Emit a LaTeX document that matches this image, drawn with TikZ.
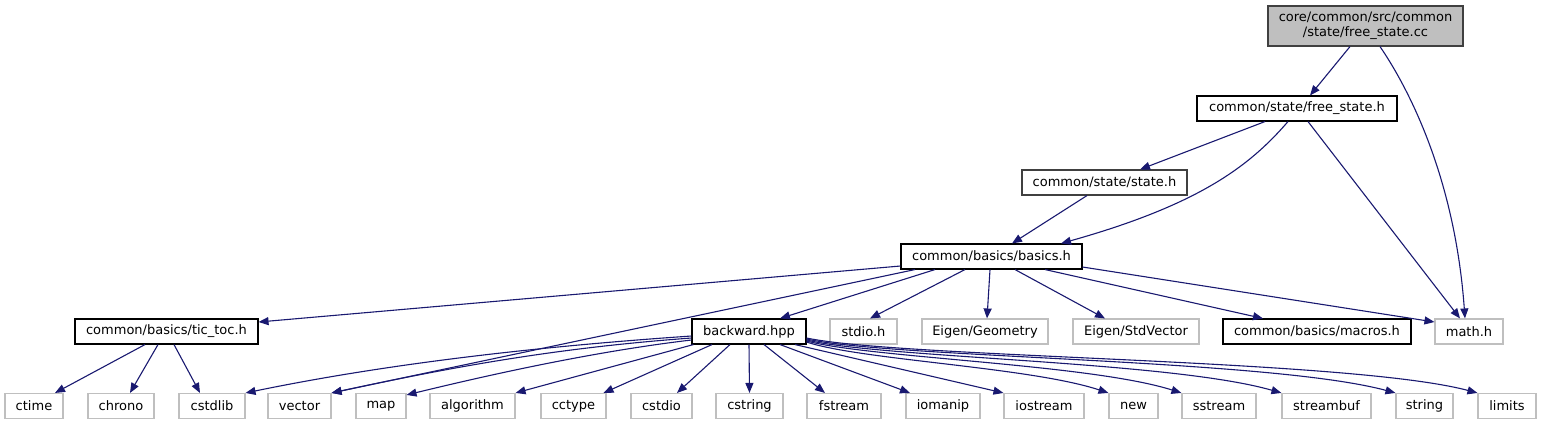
\documentclass[tikz,border=0pt]{standalone}
\usepackage{fontspec}
\setmainfont{DejaVu Sans}
\usetikzlibrary{arrows.meta}
\definecolor{edgeblue}{HTML}{191970}
\definecolor{greyborder}{HTML}{BFBFBF}
\definecolor{rootfill}{HTML}{BFBFBF}
\definecolor{darkborder}{HTML}{404040}
\begin{document}
\begin{tikzpicture}[x=1bp,y=-1bp,
  box/.style={draw, line width=1.1bp, inner sep=0pt, minimum height=25bp,
    font=\fontsize{13bp}{15.5bp}\selectfont, text=black, fill=white},
  docbox/.style={box, draw=black},
  sysbox/.style={box, draw=greyborder},
  edge/.style={draw=edgeblue, line width=1.1bp, -{Triangle[length=10bp,width=8bp]}}]
\useasboundingbox (0,0) rectangle (1543,425);
% nodes
\node[box, draw=darkborder, fill=rootfill, minimum width=195bp, minimum height=40bp, align=center] (root) at (1365.5,26) {core/common/src/common\\/state/free\_state.cc};
\node[docbox, minimum width=200bp] (fsh) at (1297,108.5) {common/state/free\_state.h};
\node[box, draw=darkborder, minimum width=165bp] (state) at (1104.5,182.5) {common/state/state.h};
\node[docbox, minimum width=181bp] (basics) at (991.5,256.5) {common/basics/basics.h};
% row 4
\node[docbox, minimum width=183bp] (tictoc) at (166.5,331.5) {common/basics/tic\_toc.h};
\node[docbox, minimum width=114bp] (backward) at (749,331.5) {backward.hpp};
\node[sysbox, minimum width=67bp] (stdio) at (863.5,331.5) {stdio.h};
\node[sysbox, minimum width=126bp] (geom) at (985,331.5) {Eigen/Geometry};
\node[sysbox, minimum width=126bp] (stdvec) at (1136,331.5) {Eigen/StdVector};
\node[docbox, minimum width=188bp] (macros) at (1317,331.5) {common/basics/macros.h};
\node[sysbox, minimum width=68bp] (math) at (1469,331.5) {math.h};
% row 5
\node[sysbox, minimum width=58bp] (ctime) at (34,406) {ctime};
\node[sysbox, minimum width=66bp] (chrono) at (121,406) {chrono};
\node[sysbox, minimum width=66bp] (cstdlib) at (212,406) {cstdlib};
\node[sysbox, minimum width=63bp] (vector) at (299.5,406) {vector};
\node[sysbox, minimum width=50bp] (map) at (381,406) {map};
\node[sysbox, minimum width=85bp] (algorithm) at (472.5,406) {algorithm};
\node[sysbox, minimum width=65bp] (cctype) at (573.5,406) {cctype};
\node[sysbox, minimum width=61bp] (cstdio) at (661.5,406) {cstdio};
\node[sysbox, minimum width=67bp] (cstring) at (749.5,406) {cstring};
\node[sysbox, minimum width=74bp] (fstream) at (844,406) {fstream};
\node[sysbox, minimum width=74bp] (iomanip) at (943,406) {iomanip};
\node[sysbox, minimum width=80bp] (iostream) at (1044,406) {iostream};
\node[sysbox, minimum width=49bp] (new) at (1133.5,406) {new};
\node[sysbox, minimum width=74bp] (sstream) at (1219,406) {sstream};
\node[sysbox, minimum width=89bp] (streambuf) at (1326.5,406) {streambuf};
\node[sysbox, minimum width=57bp] (string) at (1424.5,406) {string};
\node[sysbox, minimum width=58bp] (limits) at (1507,406) {limits};
% edges from root
\draw[edge] ([xshift=-15.5bp]root.south) -- ([xshift=13bp]fsh.north);
\draw[edge] ([xshift=14.5bp]root.south) .. controls +(30,44) and +(-10,-139) .. ([xshift=-4bp]math.north);
% free_state.h
\draw[edge] ([xshift=-32bp]fsh.south) -- ([xshift=35.5bp]state.north);
\draw[edge] ([xshift=-9bp]fsh.south) .. controls +(-38,44) and +(139,-39) .. ([xshift=69.5bp]basics.north);
\draw[edge] ([xshift=11bp]fsh.south) -- ([xshift=-9bp]math.north);
% state.h
\draw[edge] ([xshift=-17.5bp]state.south) -- ([xshift=20.5bp]basics.north);
% basics.h
\draw[edge] ([yshift=-9.5bp]basics.west) -- ([yshift=9.5bp]tictoc.east);
\draw[edge] ([xshift=-56.5bp]basics.south) -- ([xshift=31bp]backward.north);
\draw[edge] ([xshift=-76.5bp]basics.south) -- (vector.north east);
\draw[edge] ([xshift=-26.5bp]basics.south) -- ([xshift=6.5bp]stdio.north);
\draw[edge] ([xshift=-1.5bp]basics.south) -- ([xshift=2bp]geom.north);
\draw[edge] ([xshift=23.5bp]basics.south) -- ([xshift=-31bp]stdvec.north);
\draw[edge] ([xshift=53.5bp]basics.south) -- ([xshift=-54bp]macros.north);
\draw[edge] ([yshift=-10.5bp]basics.east) -- ([yshift=9.5bp]math.west);
% tic_toc.h
\draw[edge] ([xshift=-21.5bp]tictoc.south) -- ([xshift=21bp]ctime.north);
\draw[edge] ([xshift=-8.5bp]tictoc.south) -- ([xshift=9bp]chrono.north);
\draw[edge] ([xshift=7.5bp]tictoc.south) -- ([xshift=-12bp]cstdlib.north);
% backward.hpp
\draw[edge] ([yshift=-4.5bp]backward.west) .. controls +(-132,9) and +(155,-32) .. (cstdlib.north east);
\draw[edge] ([yshift=-6.5bp]backward.west) .. controls +(-122,9) and +(139,-30) .. (vector.north east);
\draw[edge] ([yshift=-8.5bp]backward.west) .. controls +(-102,12) and +(74,-18) .. ([yshift=-2bp]map.north east);
\draw[edge] ([xshift=2bp]backward.south west) -- (algorithm.north east);
\draw[edge] ([xshift=-37bp]backward.south) -- ([xshift=30bp]cctype.north);
\draw[edge] ([xshift=-19bp]backward.south) -- ([xshift=15.5bp]cstdio.north);
\draw[edge] (backward.south) -- (cstring.north);
\draw[edge] ([xshift=15bp]backward.south) -- ([xshift=-19bp]fstream.north);
\draw[edge] ([xshift=31bp]backward.south) -- ([xshift=-33bp]iomanip.north);
\draw[edge] ([xshift=46bp]backward.south) -- (iostream.north west);
\draw[edge] ([yshift=-10.5bp]backward.east) .. controls +(54,18) and +(-79,-26) .. (new.north west);
\draw[edge] ([yshift=-9.5bp]backward.east) .. controls +(64,17) and +(-92,-29) .. (sstream.north west);
\draw[edge] ([yshift=-8.5bp]backward.east) .. controls +(74,18) and +(-112,-32) .. (streambuf.north west);
\draw[edge] ([yshift=-7.5bp]backward.east) .. controls +(84,19) and +(-126,-34) .. (string.north west);
\draw[edge] ([yshift=-6.5bp]backward.east) .. controls +(94,20) and +(-128,-34) .. (limits.north west);
\end{tikzpicture}
\end{document}
